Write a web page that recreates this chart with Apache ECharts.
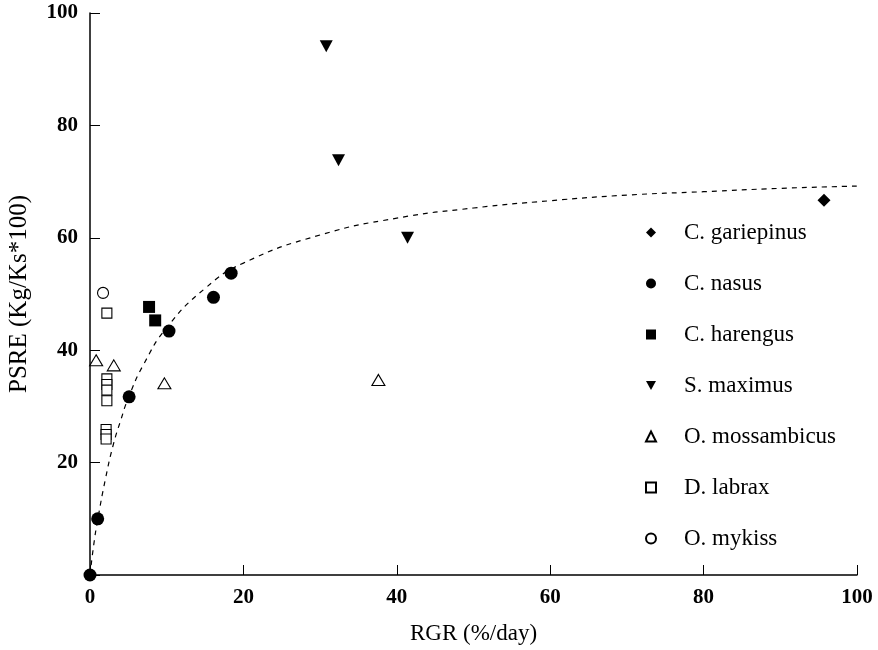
<!DOCTYPE html>
<html>
<head>
<meta charset="utf-8">
<title>PSRE vs RGR</title>
<script src="https://cdn.jsdelivr.net/npm/echarts@6/dist/echarts.min.js"></script>
<style>
  html, body { margin: 0; padding: 0; background: #fff; }
  #chart { width: 878px; height: 650px; }
</style>
</head>
<body>
<div id="chart"></div>
<script>
// Species observations: [RGR (%/day), PSRE (Kg/Ks*100)]
const gariepinus = [[95.7, 66.7]];
const nasus = [[0, 0], [1.0, 10.0], [5.1, 31.7], [10.3, 43.4], [16.1, 49.4], [18.4, 53.7]];
const harengus = [[7.7, 47.7], [8.5, 45.3]];
const maximus = [[30.8, 94.1], [32.4, 73.8], [41.4, 60.0]];
const mossambicus = [[0.8, 38.2], [3.1, 37.3], [9.7, 34.1], [37.6, 34.7]];
const labrax = [[2.2, 46.6], [2.2, 34.9], [2.2, 33.9], [2.2, 32.9], [2.2, 31.0],
                [2.1, 25.9], [2.1, 25.0], [2.1, 24.2]];
const mykiss = [[1.7, 50.2]];

// Points along the dashed fitted curve
const fitCurve = [[0, 0], [0.5, 5.5], [1, 9.8], [2, 17.0], [3, 23.0], [4, 27.5], [5, 31.5],
                  [7, 37.5], [10, 44.0], [15, 51.0], [20, 55.5], [30, 60.5], [40, 63.5],
                  [50, 65.3], [60, 66.6], [70, 67.6], [80, 68.2], [90, 68.8], [100, 69.2]];

const xTicks = { min: 0, max: 100, interval: 20 };
const yTicks = { min: 0, max: 100, interval: 20 };

const FONT = '"Liberation Serif", "Times New Roman", serif';
const downTriangle = 'path://M0,0 L10,0 L5,9 Z';

const chart = echarts.init(document.getElementById('chart'), null, { renderer: 'canvas' });

function scatter(name, data, symbol, size, filled) {
  return {
    name: name,
    type: 'scatter',
    data: data,
    symbol: symbol,
    symbolSize: size,
    itemStyle: filled
      ? { color: '#000', borderColor: '#000', borderWidth: 0, opacity: 1 }
      : { color: '#fff', borderColor: '#000', borderWidth: 1.1, opacity: 1 },
    emphasis: { disabled: true },
    z: 3
  };
}

const option = {
  animation: false,
  backgroundColor: '#fff',
  grid: { left: 90, right: 21, top: 13, bottom: 75, containLabel: false, outerBoundsMode: 'none' },
  xAxis: {
    type: 'value',
    min: xTicks.min, max: xTicks.max, interval: xTicks.interval,
    name: 'RGR (%/day)',
    nameLocation: 'middle',
    nameGap: 47,
    nameTextStyle: { fontFamily: FONT, fontSize: 23, color: '#000' },
    axisLine: { show: true, onZero: false, lineStyle: { color: '#000', width: 1.5 } },
    axisTick: { show: true, inside: true, length: 10, lineStyle: { color: '#000', width: 1 } },
    axisLabel: { fontFamily: FONT, fontSize: 21, fontWeight: 'bold', color: '#000', margin: 12 },
    splitLine: { show: false }
  },
  yAxis: {
    type: 'value',
    min: yTicks.min, max: yTicks.max, interval: yTicks.interval,
    name: 'PSRE (Kg/Ks*100)',
    nameLocation: 'middle',
    nameGap: 58,
    nameTextStyle: { fontFamily: FONT, fontSize: 25, color: '#000' },
    axisLine: { show: true, onZero: false, lineStyle: { color: '#000', width: 1.5 } },
    axisTick: { show: true, inside: true, length: 10, lineStyle: { color: '#000', width: 1 } },
    axisLabel: {
      fontFamily: FONT, fontSize: 21, fontWeight: 'bold', color: '#000', margin: 12,
      formatter: v => (v === 0 ? '' : String(v))
    },
    splitLine: { show: false }
  },
  legend: {
    orient: 'vertical',
    left: 640,
    top: 216,
    itemWidth: 10,
    itemHeight: 10,
    itemGap: 28,
    selectedMode: false,
    textStyle: { fontFamily: FONT, fontSize: 23, color: '#000', padding: [0, 0, 0, 23] },
    data: [
      { name: 'C. gariepinus', icon: 'diamond' },
      { name: 'C. nasus', icon: 'circle' },
      { name: 'C. harengus', icon: 'rect' },
      { name: 'S. maximus', icon: downTriangle },
      { name: 'O. mossambicus', icon: 'triangle' },
      { name: 'D. labrax', icon: 'rect' },
      { name: 'O. mykiss', icon: 'circle' }
    ]
  },
  series: [
    {
      name: 'fit',
      type: 'line',
      data: fitCurve,
      smooth: true,
      symbol: 'none',
      lineStyle: { color: '#000', width: 1.2, type: [5, 5] },
      emphasis: { disabled: true },
      z: 2
    },
    scatter('C. gariepinus', gariepinus, 'diamond', 13, true),
    scatter('C. nasus', nasus, 'circle', 13, true),
    scatter('C. harengus', harengus, 'rect', 12, true),
    scatter('S. maximus', maximus, downTriangle, [13, 12], true),
    scatter('O. mossambicus', mossambicus, 'triangle', [13, 11], false),
    scatter('D. labrax', labrax, 'rect', 10, false),
    scatter('O. mykiss', mykiss, 'circle', 11, false)
  ]
};

chart.setOption(option);
</script>
</body>
</html>
